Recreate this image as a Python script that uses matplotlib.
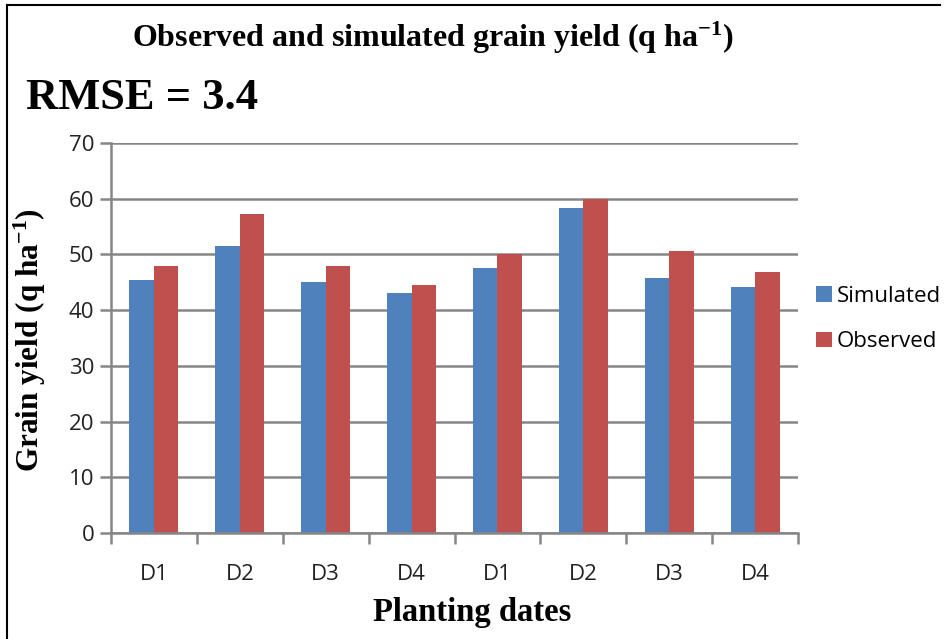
#!/usr/bin/env python3
"""Observed vs simulated grain yield by planting date (grouped bars)."""

import matplotlib.pyplot as plt
import numpy as np
from matplotlib.lines import Line2D

CATEGORIES = ["D1", "D2", "D3", "D4", "D1", "D2", "D3", "D4"]
SIMULATED = [45.4, 51.5, 45.1, 43.0, 47.5, 58.4, 45.8, 44.1]
OBSERVED = [48.0, 57.2, 48.0, 44.6, 50.0, 60.0, 50.7, 46.8]
SERIES = ["Simulated", "Observed"]
Y_TICKS = [0, 10, 20, 30, 40, 50, 60, 70]

BLUE = "#4F81BD"
RED = "#C0504D"
GRID = "#868686"
SERIF = "Liberation Serif"
SANS = ["Open Sans", "DejaVu Sans"]

plt.rcParams["mathtext.fontset"] = "custom"
plt.rcParams["mathtext.rm"] = "Liberation Serif:bold"
plt.rcParams["mathtext.it"] = "Liberation Serif:bold"
plt.rcParams["mathtext.bf"] = "Liberation Serif:bold"


def main() -> None:
    W, H = 944, 639
    fig = plt.figure(figsize=(W / 100, H / 100), dpi=100)
    fig.patch.set_facecolor("white")

    # axes box in pixels: x 111..798, y 143..533
    ax = fig.add_axes([111 / W, 1 - 533 / H, (798 - 111) / W, (533 - 143) / H])

    x = np.arange(len(CATEGORIES))
    bw = 0.285
    ax.bar(x - bw / 2, SIMULATED, bw, color=BLUE, label=SERIES[0], zorder=3)
    ax.bar(x + bw / 2, OBSERVED, bw, color=RED, label=SERIES[1], zorder=3)

    ax.set_xlim(-0.5, len(CATEGORIES) - 0.5)
    ax.set_ylim(0, 70)
    ax.set_yticks(Y_TICKS)
    ax.set_yticklabels([str(v) for v in Y_TICKS], family=SANS, fontsize=16, color="#222222")
    ax.yaxis.grid(True, color=GRID, linewidth=1.8, zorder=0)
    ax.tick_params(axis="y", length=8, width=1.8, color=GRID, pad=4)

    # category labels centred, tick marks on boundaries (Excel style)
    ax.set_xticks(x)
    ax.set_xticklabels(CATEGORIES, family=SANS, fontsize=16, color="#222222")
    ax.tick_params(axis="x", length=0, pad=22)
    ax.set_xticks(np.arange(len(CATEGORIES) + 1) - 0.5, minor=True)
    ax.tick_params(axis="x", which="minor", length=8, width=1.8, color=GRID)

    for side in ("top", "right"):
        ax.spines[side].set_visible(False)
    for side in ("left", "bottom"):
        ax.spines[side].set_color(GRID)
        ax.spines[side].set_linewidth(1.8)
        ax.spines[side].set_zorder(4)

    fig.text(30 / W, 1 - 340 / H, "Grain yield (q ha$^{-1}$)", family=SERIF,
             fontweight="bold", fontsize=22.5, rotation=90, ha="center", va="center")
    fig.text(472 / W, 1 - 612 / H, "Planting dates", family=SERIF,
             fontweight="bold", fontsize=23.5, ha="center", va="center")

    handles, labels = ax.get_legend_handles_labels()
    fig.legend(handles, labels, loc="center left", bbox_to_anchor=(796 / W, 1 - 319 / H),
               frameon=False, prop={"family": SANS, "size": 16},
               handlelength=0.7, handleheight=0.7, handletextpad=0.25,
               labelspacing=1.1)

    fig.text(433 / W, 1 - 38 / H, "Observed and simulated grain yield (q ha$^{-1}$)",
             family=SERIF, fontweight="bold", fontsize=23, ha="center", va="center")
    fig.text(26 / W, 1 - 98 / H, "RMSE = 3.4", family=SERIF, fontweight="bold",
             fontsize=32, ha="left", va="center")

    # image frame (top and left edges)
    fig.add_artist(Line2D([7 / W, 940 / W], [1 - 5 / H, 1 - 5 / H],
                          transform=fig.transFigure, color="black", linewidth=1.5))
    fig.add_artist(Line2D([7 / W, 7 / W], [1 - 5 / H, 0],
                          transform=fig.transFigure, color="black", linewidth=1.5))

    fig.savefig("out.png", dpi=100, facecolor="white")
    plt.close(fig)


if __name__ == "__main__":
    main()
